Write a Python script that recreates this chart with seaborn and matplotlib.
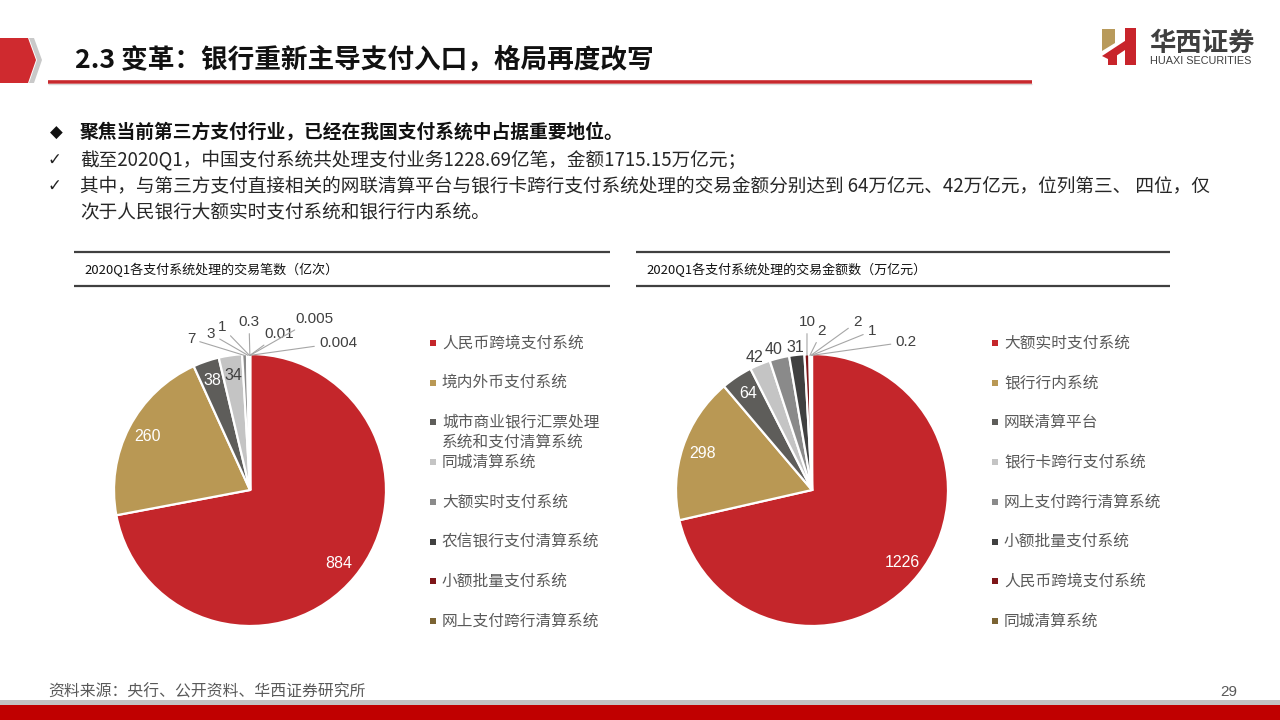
import matplotlib
matplotlib.use("Agg")
import numpy as np
import seaborn as sns
import matplotlib.pyplot as plt
from matplotlib.patches import Rectangle, Polygon
from matplotlib.lines import Line2D

# ---------------- data ----------------
count_values = [884, 260, 38, 34, 7, 3, 1, 0.3, 0.01, 0.005, 0.004]
count_legend = ["人民币跨境支付系统", "境内外币支付系统", "城市商业银行汇票处理\n系统和支付清算系统",
                "同城清算系统", "大额实时支付系统", "农信银行支付清算系统",
                "小额批量支付系统", "网上支付跨行清算系统"]

amount_values = [1226, 298, 64, 42, 40, 31, 10, 2, 2, 1, 0.2]
amount_legend = ["大额实时支付系统", "银行行内系统", "网联清算平台", "银行卡跨行支付系统",
                 "网上支付跨行清算系统", "小额批量支付系统", "人民币跨境支付系统", "同城清算系统"]

palette_hex = ["#C4262B", "#B99854", "#5E5D5A", "#C4C4C4", "#8A8A8A", "#404040", "#7E1518", "#7B6333"]

# ---------------- style ----------------
sns.set_theme(style="white")
CJK = ["Noto Sans CJK SC", "DejaVu Sans"]
plt.rcParams["font.family"] = CJK
colors = sns.color_palette(palette_hex)

W, H = 1280, 720
fig = plt.figure(figsize=(12.8, 7.2), dpi=100)
fig.patch.set_facecolor("white")


def fx(x):
    return x / W


def fy(y):
    return 1 - y / H


def hline(x0, x1, y, color, lw):
    fig.add_artist(Line2D([fx(x0), fx(x1)], [fy(y), fy(y)], transform=fig.transFigure,
                          color=color, lw=lw, solid_capstyle="butt"))


def poly(pts, color):
    fig.add_artist(Polygon([(fx(a), fy(b)) for a, b in pts], closed=True,
                           transform=fig.transFigure, facecolor=color, edgecolor="none"))


# ---------------- header ----------------
poly([(0, 38), (28, 38), (36, 60), (28, 83), (0, 83)], "#CF2A2F")
poly([(29, 38), (34, 38), (42, 60), (34, 83), (29, 83), (37, 60)], "#C9C9C9")
hline(48, 1032, 82, "#C8282D", 2.6)
hline(48, 1032, 84.3, "#D9D9D9", 1.0)
fig.text(fx(75), fy(60), "2.3 变革：银行重新主导支付入口，格局再度改写", fontsize=19.2,
         fontweight="bold", color="#111111", va="center", ha="left", family=CJK)

# logo
poly([(1102, 29), (1115, 29), (1115, 43), (1102, 51)], "#B89A5B")
poly([(1102, 56), (1134, 35), (1134, 44), (1110, 60)], "#C8242B")
poly([(1125, 28), (1136, 28), (1136, 65), (1125, 65)], "#C8242B")
poly([(1108, 53), (1117, 48), (1117, 65), (1108, 65)], "#C8242B")
fig.text(fx(1149), fy(43), "华西证券", fontsize=19, fontweight="bold", color="#3F3F3F",
         va="center", ha="left", family=CJK)
fig.text(fx(1150), fy(61.5), "HUAXI SECURITIES", fontsize=7.8, color="#3F3F3F",
         va="center", ha="left", family=["Liberation Sans", "DejaVu Sans"])

# ---------------- body text ----------------
fig.text(fx(50), fy(133), "◆", fontsize=12, color="#111111", va="center", ha="left",
         family=["DejaVu Sans"])
fig.text(fx(80), fy(133), "聚焦当前第三方支付行业，已经在我国支付系统中占据重要地位。", fontsize=13.5,
         fontweight="bold", color="#111111", va="center", ha="left", family=CJK)
lines = [
    (160, True, "截至2020Q1，中国支付系统共处理支付业务1228.69亿笔，金额1715.15万亿元；"),
    (186, True, "其中，与第三方支付直接相关的网联清算平台与银行卡跨行支付系统处理的交易金额分别达到 64万亿元、42万亿元，位列第三、 四位，仅"),
    (213, False, "次于人民银行大额实时支付系统和银行行内系统。"),
]
for y, tick, txt in lines:
    if tick:
        fig.text(fx(47), fy(y), "✓", fontsize=12, color="#222222", va="center", ha="left",
                 family=["DejaVu Sans"])
    fig.text(fx(80), fy(y), txt, fontsize=13.45, color="#262626", va="center", ha="left",
             family=CJK)

# ---------------- chart title bars ----------------
for x0, x1, title in [(74, 610, "2020Q1各支付系统处理的交易笔数（亿次）"),
                      (636, 1170, "2020Q1各支付系统处理的交易金额数（万亿元）")]:
    hline(x0, x1, 252, "#404040", 1.6)
    hline(x0, x1, 286, "#404040", 1.6)
    fig.text(fx(x0 + 10), fy(270), title, fontsize=9.4, color="#111111", va="center",
             ha="left", family=CJK)

# ---------------- pies ----------------
R_PX = 136
HALF = 205


def draw_pie(cx, cy, values, n_inner, inner_colors, outer_pos, leader):
    ax = fig.add_axes([fx(cx - HALF), fy(cy + HALF), 2 * HALF / W, 2 * HALF / H])
    wcolors = [colors[i % len(colors)] for i in range(len(values))]
    wedges, _ = ax.pie(values, colors=wcolors, startangle=90, counterclock=False, radius=1,
                       wedgeprops=dict(edgecolor="white", linewidth=1.6))
    lim = HALF / R_PX
    ax.set_xlim(-lim, lim)
    ax.set_ylim(-lim, lim)
    ax.set_aspect("equal")
    ax.axis("off")
    num_font = ["Liberation Sans", "DejaVu Sans"]
    for i, (w, v) in enumerate(zip(wedges, values)):
        th = np.deg2rad((w.theta1 + w.theta2) / 2)
        label = f"{v:g}"
        if i < n_inner:
            ax.text(0.85 * np.cos(th), 0.85 * np.sin(th), label, ha="center", va="center",
                    fontsize=11.5, color=inner_colors[i], family=num_font)
        else:
            px, py = outer_pos[i - n_inner]
            tx, ty = (px - cx) / R_PX, (cy - py) / R_PX
            if leader[i - n_inner]:
                ax.annotate(label, xy=(np.cos(th) * 0.99, np.sin(th) * 0.99), xytext=(tx, ty),
                            ha="center", va="center", fontsize=11, color="#404040",
                            family=num_font,
                            arrowprops=dict(arrowstyle="-", color="#A6A6A6", lw=0.8,
                                            shrinkA=1, shrinkB=0))
            else:
                ax.text(tx, ty, label, ha="center", va="center", fontsize=11.5,
                        color="#404040", family=num_font)
    return ax


draw_pie(250, 490, count_values, 4, ["white", "white", "white", "#404040"],
         [(191, 339), (211, 334), (222, 327), (249, 322), (279, 334), (314, 319), (338, 343)],
         [True] * 7)
draw_pie(812, 490, amount_values, 3, ["white", "white", "white"],
         [(755, 357), (774, 349), (795, 347), (807, 322), (822, 331), (857, 322), (872, 331),
          (906, 342)],
         [False, False, False, True, True, True, True, True])


# ---------------- legends ----------------
def draw_legend(xm, xt, y0, labels):
    for i, lab in enumerate(labels):
        y = y0 + i * 39.7
        fig.add_artist(Rectangle((fx(xm - 3), fy(y + 3)), 6 / W, 6 / H,
                                 transform=fig.transFigure, facecolor=colors[i],
                                 edgecolor="none"))
        for k, part in enumerate(lab.split("\n")):
            fig.text(fx(xt), fy(y + k * 20), part, fontsize=11.3, color="#595959",
                     va="center", ha="left", family=CJK)


draw_legend(433, 442, 343, count_legend)
draw_legend(995, 1004, 343, amount_legend)

# ---------------- footer ----------------
fig.text(fx(48), fy(692), "资料来源：央行、公开资料、华西证券研究所", fontsize=11.4, color="#595959",
         va="center", ha="left", family=CJK)
fig.text(fx(1220), fy(692), "29", fontsize=11, color="#595959", va="center", ha="left",
         family=["Liberation Sans", "DejaVu Sans"])
fig.add_artist(Rectangle((0, fy(705)), 1, 5 / H, transform=fig.transFigure,
                         facecolor="#C3C3C3", edgecolor="none"))
fig.add_artist(Rectangle((0, 0), 1, 15 / H, transform=fig.transFigure,
                         facecolor="#C00000", edgecolor="none"))

fig.savefig("out.png", dpi=100, facecolor="white")
